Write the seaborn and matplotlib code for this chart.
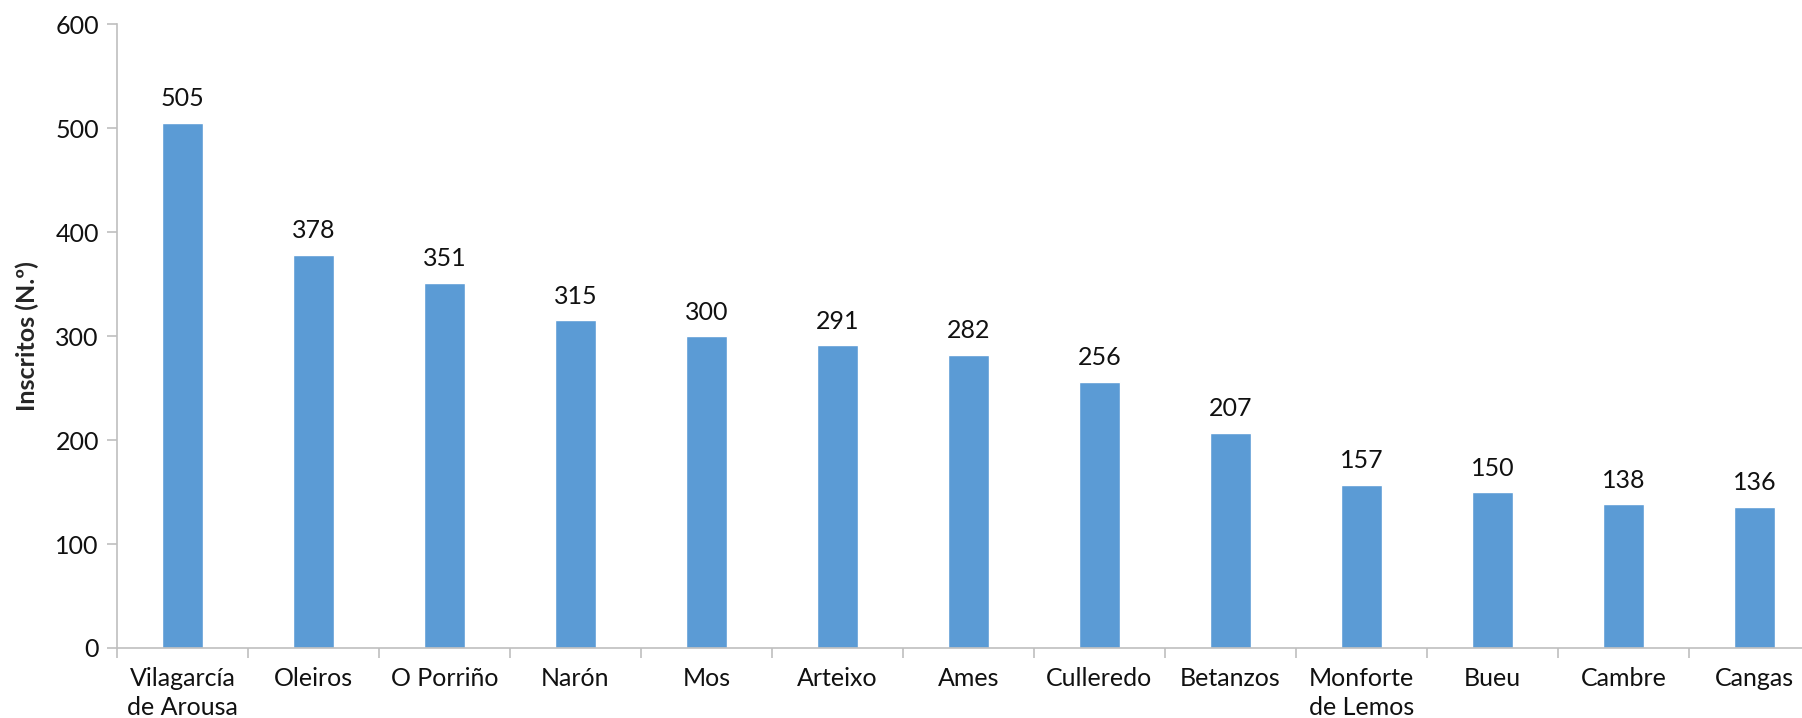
import pandas as pd
import seaborn as sns
import matplotlib.pyplot as plt
import numpy as np

municipios = ["Vilagarcía\nde Arousa", "Oleiros", "O Porriño", "Narón", "Mos",
              "Arteixo", "Ames", "Culleredo", "Betanzos", "Monforte\nde Lemos",
              "Bueu", "Cambre", "Cangas"]
inscritos = [505, 378, 351, 315, 300, 291, 282, 256, 207, 157, 150, 138, 136]
y_ticks = [0, 100, 200, 300, 400, 500, 600]

sns.set_style("white")
plt.rcParams['font.family'] = ['Lato', 'DejaVu Sans']

df = pd.DataFrame({'municipio': municipios, 'inscritos': inscritos})

fig = plt.figure(figsize=(18.02, 7.18), dpi=100)
ax = fig.add_axes([0.0649, 0.0975, 0.945, 0.869])

sns.barplot(data=df, x='municipio', y='inscritos', color='#5B9BD5',
            width=0.31, saturation=1, ax=ax)

ax.bar_label(ax.containers[0], fmt='%d', padding=9, fontsize=18, color='#111111')

ax.set_ylim(0, 600)
ax.set_xlim(-0.5, len(municipios) - 0.5)
ax.set_yticks(y_ticks)
ax.set_ylabel('Inscritos (N.º)', fontsize=18, fontweight='bold', labelpad=12)
ax.set_xlabel('')

# ticks between categories, labels centred on bars
ax.set_xticks(np.arange(-0.5, len(municipios), 1), minor=True)
ax.tick_params(axis='x', which='major', length=0, labelsize=18, pad=14, colors='#111111')
ax.tick_params(axis='x', which='minor', length=7, width=1.2, color='#BFBFBF', bottom=True)
ax.tick_params(axis='y', length=7, width=1.2, color='#BFBFBF', labelsize=18,
               labelcolor='#111111', left=True, pad=6)
for lbl in ax.get_xticklabels():
    lbl.set_linespacing(1.3)

for side in ['top', 'right']:
    ax.spines[side].set_visible(False)
for side in ['left', 'bottom']:
    ax.spines[side].set_color('#BFBFBF')
    ax.spines[side].set_linewidth(1.2)

plt.savefig('out.png', dpi=100)
plt.close()
